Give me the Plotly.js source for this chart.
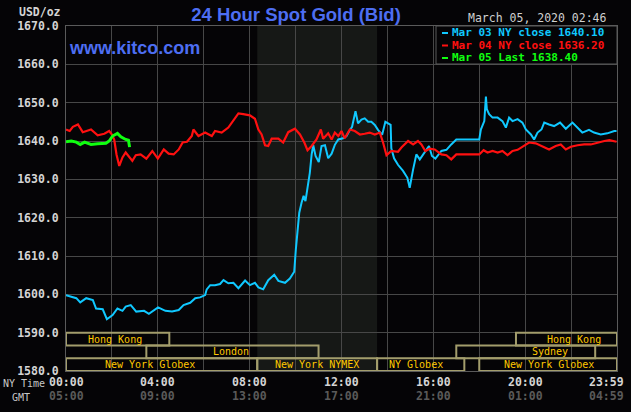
<!DOCTYPE html>
<html><head><meta charset="utf-8">
<script src="https://cdn.plot.ly/plotly-3.0.1.min.js"></script>
<style>html,body{margin:0;padding:0;background:#050406;}</style>
</head><body><div id="chart" style="width:631px;height:412px;"></div>
<script>
// ---- data (hours after 00:00 NY time, USD/oz) ----
const cyanHours = [0,0.23,0.45,0.62,0.88,1.17,1.31,1.6,1.78,2.03,2.24,2.46,2.6,2.82,3.06,3.4,3.61,4.01,4.33,4.62,4.91,5.12,5.41,5.63,5.84,6.06,6.13,6.28,6.49,6.71,6.86,7.07,7.29,7.51,7.8,8.01,8.23,8.38,8.59,8.81,9.07,9.25,9.54,9.75,9.94,10.01,10.07,10.16,10.26,10.35,10.43,10.52,10.62,10.7,10.77,10.87,11.01,11.13,11.28,11.42,11.57,11.71,11.86,12.07,12.22,12.32,12.46,12.61,12.72,12.87,13.01,13.16,13.3,13.45,13.59,13.77,13.91,14.03,14.14,14.17,14.29,14.46,14.68,14.87,14.97,15.12,15.26,15.41,15.62,15.81,15.94,16.09,16.35,16.57,16.78,17,18,18.07,18.22,18.29,18.33,18.43,18.58,18.8,19.01,19.16,19.3,19.45,19.67,19.88,20.03,20.25,20.39,20.54,20.71,20.83,21.04,21.26,21.52,21.77,22.06,22.28,22.49,22.78,23,23.29,23.58,23.88,23.98];
const cyanValues = [1599.8,1599.4,1599.0,1597.9,1599.0,1598.5,1596.3,1596.1,1593.5,1594.6,1596.3,1595.7,1596.8,1597.2,1595.5,1595.7,1594.9,1596.6,1595.7,1595.5,1595.9,1597.2,1597.8,1599.0,1599.2,1599.8,1601.3,1602.4,1602.4,1602.7,1603.7,1602.9,1603.0,1601.6,1603.6,1602.4,1603.0,1601.8,1601.3,1603.7,1605.1,1603.5,1603.0,1604.1,1605.9,1611.6,1616.1,1621.3,1623.9,1625.7,1624.3,1627.4,1631.7,1636.5,1638.9,1636.1,1634.5,1638.7,1638.9,1635.5,1636.7,1639.0,1640.4,1640.7,1641.3,1642.4,1643.7,1647.8,1644.6,1645.6,1645.9,1645.0,1645.0,1644.2,1642.9,1641.6,1645.0,1644.6,1644.2,1638.1,1635.5,1633.8,1632.2,1630.4,1627.8,1632.6,1636.5,1635.2,1636.9,1638.7,1636.1,1635.4,1637.4,1637.7,1639.1,1640.4,1640.4,1643.0,1645.2,1651.6,1648.3,1647.0,1646.1,1646.1,1645.2,1643.5,1646.1,1645.2,1645.7,1644.8,1643.0,1641.7,1640.4,1642.2,1643.0,1644.8,1644.3,1643.9,1644.8,1643.2,1644.8,1643.5,1642.2,1642.9,1642.2,1641.7,1642.0,1642.6,1642.6];

const redHours = [0,0.16,0.3,0.52,0.73,1.09,1.38,1.67,1.88,2,2.1,2.2,2.32,2.46,2.6,2.75,2.89,3.04,3.25,3.5,3.76,4,4.26,4.47,4.69,4.91,5.08,5.27,5.48,5.55,5.77,6.06,6.35,6.49,6.78,7.07,7.29,7.51,7.72,8.01,8.23,8.38,8.52,8.67,8.81,8.96,9.25,9.46,9.68,9.97,10.19,10.38,10.52,10.7,10.91,11.1,11.2,11.42,11.57,11.71,11.86,12,12.14,12.36,12.58,12.8,13.01,13.23,13.45,13.67,13.81,13.96,14.17,14.46,14.61,14.9,15.12,15.33,15.48,15.65,15.84,16.06,16.35,16.57,16.78,17,18,18.19,18.36,18.58,18.8,19.01,19.23,19.45,19.67,19.96,20.17,20.46,20.75,21.04,21.33,21.55,21.77,21.99,22.28,22.57,22.86,23.16,23.45,23.67,23.88,23.98];
const redValues = [1643.0,1642.6,1643.7,1644.3,1642.3,1643.0,1641.5,1641.9,1642.6,1641.7,1640.4,1636.5,1633.5,1635.7,1637.0,1635.8,1634.8,1636.3,1636.5,1635.4,1637.4,1635.4,1637.8,1636.7,1636.5,1637.8,1639.6,1639.8,1641.3,1643.0,1641.3,1642.2,1641.3,1642.6,1642.2,1643.5,1645.2,1647.2,1647.0,1646.7,1645.8,1643.0,1641.7,1638.9,1638.7,1640.6,1640.6,1639.6,1642.3,1643.2,1641.7,1639.6,1637.6,1638.7,1640.4,1643.0,1640.6,1642.0,1640.4,1642.2,1641.3,1642.6,1640.7,1643.0,1642.6,1641.7,1641.9,1642.2,1641.7,1642.2,1639.6,1636.3,1637.4,1637.2,1638.3,1640.0,1639.1,1640.0,1639.1,1637.4,1638.0,1637.8,1636.5,1636.3,1635.2,1636.5,1636.5,1637.6,1637.0,1637.4,1637.0,1637.4,1636.3,1637.4,1637.7,1638.7,1639.6,1639.4,1638.5,1637.8,1638.7,1639.1,1637.8,1638.5,1638.9,1639.1,1639.1,1639.6,1640.0,1640.2,1639.8,1639.8];

const greenHours = [0,0.23,0.45,0.62,0.81,1.09,1.38,1.74,1.88,2.03,2.24,2.39,2.6,2.72,2.77];
const greenValues = [1639.8,1640.0,1639.7,1639.1,1639.7,1639.1,1639.3,1639.4,1640.0,1641.3,1642.0,1641.1,1640.4,1640.2,1638.4];

const seriesNames = ['Mar 03 NY close 1640.10', 'Mar 04 NY close 1636.20', 'Mar 05 Last 1638.40'];

const tickHours = [0, 4, 8, 12, 16, 20, 24];
const nyTimeLabels = ['00:00', '04:00', '08:00', '12:00', '16:00', '20:00', '23:59'];
const gmtLabels = ['05:00', '09:00', '13:00', '17:00', '21:00', '01:00', '04:59'];

const sessionNames = ['Hong Kong', 'Hong Kong', 'London', 'Sydney', 'New York Globex', 'New York NYMEX', 'NY Globex', 'New York Globex'];
const sessionStart = [0, 19.6, 3.5, 17.0, 0, 8.33, 13.55, 18.0];
const sessionEnd   = [4.5, 24, 11.0, 23.05, 8.33, 13.55, 17.35, 24];
const sessionRow   = [0, 0, 1, 1, 2, 2, 2, 2];
const sessionLabelAt = [2.13, 22.13, 7.19, 21.06, 3.66, 10.93, 15.24, 21.04];

const nymexStart = 8.33, nymexEnd = 13.55;
const dateText = 'March 05, 2020 02:46';

// ---- styling ----
const MONO = 'DejaVu Sans Mono, Liberation Mono, monospace';
const SANS = 'Liberation Sans, Arial, sans-serif';
const colors = ['#10c8ff', '#ff1010', '#10ff10'];
const widths = [2, 2.2, 3];
const W = 631, H = 412, ML = 66, MR = 14, MT = 26, MB = 41;
const PW = W - ML - MR, PH = H - MT - MB;
const px = x => (x - ML) / PW;       // pixel -> paper x
const py = y => (H - MB - y) / PH;   // pixel -> paper y

const traces = [
  {x: cyanHours, y: cyanValues},
  {x: redHours, y: redValues},
  {x: greenHours, y: greenValues}
].map((t, i) => ({
  type: 'scatter', mode: 'lines', x: t.x, y: t.y, name: seriesNames[i],
  line: {color: colors[i], width: widths[i]}, hoverinfo: 'skip', showlegend: false
}));

const shapes = [];
const annotations = [];

// NYMEX shaded region
shapes.push({type: 'rect', xref: 'x', yref: 'paper', x0: nymexStart, x1: nymexEnd, y0: 0, y1: 1,
  fillcolor: '#161816', line: {width: 0}, layer: 'below'});

// session boxes
const rowTop = [1590, 1586.667, 1583.333];
const rowH = 10 / 3;
sessionNames.forEach((n, i) => {
  const top = rowTop[sessionRow[i]];
  shapes.push({type: 'rect', xref: 'x', yref: 'y', x0: sessionStart[i], x1: sessionEnd[i],
    y0: top - rowH, y1: top, line: {color: '#a39d6c', width: 2}, fillcolor: 'rgba(0,0,0,0)', layer: 'above'});
  annotations.push({xref: 'x', yref: 'y', x: sessionLabelAt[i], y: top - rowH / 2, text: n,
    showarrow: false, xanchor: 'center', yanchor: 'middle', borderpad: 0,
    font: {family: MONO, size: 10, color: '#ffc800'}});
});

// x tick labels (NY time and GMT rows)
tickHours.forEach((h, i) => {
  const last = i === tickHours.length - 1;
  annotations.push({xref: 'x', yref: 'paper', x: h, y: py(382), text: nyTimeLabels[i], showarrow: false,
    xanchor: last ? 'right' : 'center', xshift: last ? 8 : 0, yanchor: 'middle', borderpad: 0,
    font: {family: MONO, size: 11.5, color: '#d4d4d4', weight: 'bold'}});
  annotations.push({xref: 'x', yref: 'paper', x: h, y: py(396), text: gmtLabels[i], showarrow: false,
    xanchor: last ? 'right' : 'center', xshift: last ? 8 : 0, yanchor: 'middle', borderpad: 0,
    font: {family: MONO, size: 11.5, color: '#5a5a5a', weight: 'bold'}});
});
annotations.push({xref: 'paper', yref: 'paper', x: px(2), y: py(383), text: 'NY Time', showarrow: false,
  xanchor: 'left', yanchor: 'middle', borderpad: 0, font: {family: MONO, size: 10, color: '#c8c8c8'}});
annotations.push({xref: 'paper', yref: 'paper', x: px(11), y: py(397), text: 'GMT', showarrow: false,
  xanchor: 'left', yanchor: 'middle', borderpad: 0, font: {family: MONO, size: 10, color: '#c8c8c8'}});

// unit label, site, date
annotations.push({xref: 'paper', yref: 'paper', x: px(63), y: py(12), text: 'USD/oz', showarrow: false,
  xanchor: 'right', yanchor: 'middle', font: {family: MONO, size: 11.5, color: '#d4d4d4', weight: 'bold'}});
annotations.push({xref: 'paper', yref: 'paper', x: px(67), y: py(48), text: 'www.kitco.com', showarrow: false,
  xanchor: 'left', yanchor: 'middle', font: {family: SANS, size: 18, color: '#4d6ef2', weight: 'bold'}});
annotations.push({xref: 'paper', yref: 'paper', x: px(609), y: py(18), text: dateText, showarrow: false,
  xanchor: 'right', yanchor: 'middle', font: {family: MONO, size: 11.5, color: '#d0d0d0'}});

// legend box
shapes.push({type: 'rect', xref: 'paper', yref: 'paper', x0: px(436), x1: 1, y0: py(64), y1: 1,
  fillcolor: '#050406', line: {color: '#5a5a5a', width: 1}, layer: 'above'});
const legendY = [33, 45.5, 58];
seriesNames.forEach((n, i) => {
  shapes.push({type: 'line', xref: 'paper', yref: 'paper', x0: px(442), x1: px(448), y0: py(legendY[i]), y1: py(legendY[i]),
    line: {color: colors[i], width: 2}, layer: 'above'});
  annotations.push({xref: 'paper', yref: 'paper', x: px(451), y: py(legendY[i]), text: n, showarrow: false,
    xanchor: 'left', yanchor: 'middle', borderpad: 0,
    font: {family: MONO, size: 11, color: colors[i], weight: 'bold'}});
});

const gridTicks = [];
for (let h = 0; h <= 24; h += 2) gridTicks.push(h);

const layout = {
  width: W, height: H,
  margin: {l: ML, r: MR, t: MT, b: MB, pad: 0},
  paper_bgcolor: '#050406', plot_bgcolor: '#050406',
  title: {text: '24 Hour Spot Gold (Bid)', x: px(296), xref: 'paper', xanchor: 'center',
    y: 1 - 15 / H, yref: 'container', yanchor: 'middle',
    font: {family: SANS, size: 18.5, color: '#4d6ef2', weight: 'bold'}},
  xaxis: {range: [0, 24], tickvals: gridTicks, showticklabels: false, ticks: '',
    showgrid: true, gridcolor: '#474747', gridwidth: 1, zeroline: false,
    showline: true, mirror: true, linecolor: '#5a5a5a', linewidth: 1, fixedrange: true},
  yaxis: {range: [1580, 1670], tick0: 1580, dtick: 10, tickformat: '.1f', ticks: '',
    showgrid: true, gridcolor: '#474747', gridwidth: 1, zeroline: false,
    showline: true, mirror: true, linecolor: '#5a5a5a', linewidth: 1,
    ticklabelstandoff: 4,
    tickfont: {family: MONO, size: 11.5, color: '#d4d4d4', weight: 'bold'}, fixedrange: true},
  shapes: shapes,
  annotations: annotations,
  showlegend: false,
  hovermode: false
};

Plotly.newPlot('chart', traces, layout, {displayModeBar: false, staticPlot: true});
</script>
</body></html>
